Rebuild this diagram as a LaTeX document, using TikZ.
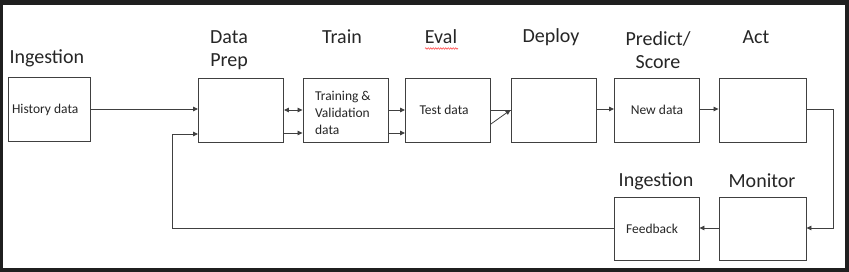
\documentclass[tikz,border=0pt]{standalone}
\usepackage{fontspec}
\setmainfont{Carlito}
\usetikzlibrary{arrows.meta,decorations.pathmorphing}
\begin{document}
\begin{tikzpicture}[x=1pt,y=-1pt,
  stagebox/.style={draw=black!75,line width=0.9pt,fill=white,minimum width=85pt,minimum height=64pt,inner sep=0pt},
  title/.style={font=\fontsize{20}{23}\selectfont,align=center,text=black!85},
  inner/.style={font=\fontsize{13.5}{17}\selectfont,text=black!85},
  conn/.style={draw=black!75,line width=0.8pt},
  arr/.style={conn,-{Triangle[length=5pt,width=4.5pt]}},
  darr/.style={conn,{Triangle[length=5pt,width=4.5pt]}-{Triangle[length=5pt,width=4.5pt]}}]
\useasboundingbox (0,0) rectangle (849,272);
\fill[black!88] (0,0) rectangle (849,272);
\fill[white] (3,5) rectangle (845,268);
% boxes
\node[stagebox,minimum width=82pt] (hist) at (49,109.5) {};
\node[inner,anchor=west] (histt) at ([xshift=1pt]hist.west) {History data};
\node[stagebox] (prep) at (241,110.5) {};
\node[stagebox] (train) at (345.5,110.5) {};
\node[inner,align=left,anchor=west] (traint) at ([xshift=9pt,yshift=-2pt]train.west) {Training \&\\Validation\\data};
\node[stagebox] (test) at (448,110) {};
\node[inner,anchor=west] (testt) at ([xshift=11pt]test.west) {Test data};
\node[stagebox] (deploy) at (553.5,110) {};
\node[stagebox] (newd) at (657,110) {};
\node[inner] (newdt) at (newd.center) {New data};
\node[stagebox,minimum width=87pt] (act) at (762.5,110) {};
\node[stagebox,minimum height=63pt] (feed) at (656.5,228.5) {};
\node[inner,anchor=west] (feedt) at ([xshift=9pt]feed.west) {Feedback};
\node[stagebox,minimum width=87pt,minimum height=63pt] (mon) at (762.5,228.5) {};
% titles
\node[title,anchor=west] (t1) at (6,58) {Ingestion};
\node[title] (t2) at (229,50) {Data\\Prep};
\node[title] (t3) at (342,37) {Train};
\node[title] (t4) at (441,37) {Eval};
\draw[red!80,line width=0.5pt,decorate,decoration={snake,amplitude=0.8pt,segment length=2.5pt}] (425,48.5) -- (458,48.5);
\node[title] (t5) at (551,37) {Deploy};
\node[title] (t6) at (658,50) {Predict/\\Score};
\node[title] (t7) at (756,37) {Act};
\node[title] (t8) at (656,181) {Ingestion};
\node[title] (t9) at (762,181) {Monitor};
% connectors
\draw[arr] (hist.east |- 0,109) -- (prep.west |- 0,109);
\draw[darr] (prep.east |- 0,110) -- (train.west |- 0,110);
\draw[arr] (prep.east |- 0,133) -- (train.west |- 0,133);
\draw[arr] (train.east |- 0,110) -- (test.west |- 0,110);
\draw[arr] (train.east |- 0,133) -- (test.west |- 0,133);
\coordinate (dtip) at (deploy.west |- 0,110);
\draw[conn] (test.east |- 0,110) -- (dtip);
\draw[arr] (test.east |- 0,124) -- (dtip);
\draw[arr] (deploy.east |- 0,109) -- (newd.west |- 0,109);
\draw[arr] (newd.east |- 0,109) -- (act.west |- 0,109);
\coordinate (rc) at (833,109);
\draw[arr] (act.east |- 0,109) -- (rc) |- (mon.east |- 0,228);
\draw[arr] (mon.west |- 0,228) -- (feed.east |- 0,228);
\coordinate (lc) at (172,228);
\draw[arr] (feed.west |- 0,228) -- (lc) |- (prep.west |- 0,134);
\end{tikzpicture}
\end{document}
